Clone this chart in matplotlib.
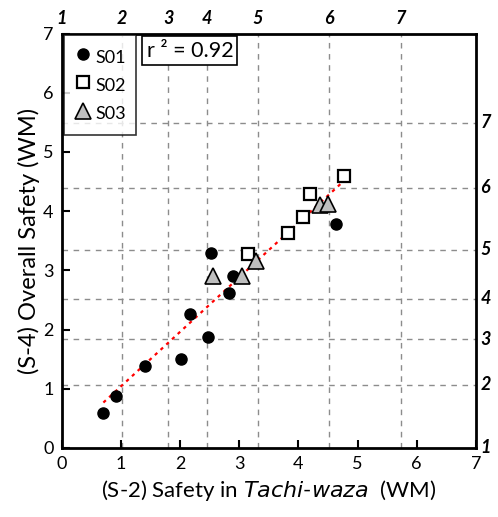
import matplotlib.pyplot as plt
import numpy as np

plt.rcParams["font.family"] = ["Lato", "DejaVu Sans"]

# WM scores, (S-2) safety in tachi-waza vs (S-4) overall safety
s01_x = [0.70, 0.91, 1.41, 2.01, 2.16, 2.47, 2.52, 2.83, 2.89, 4.64]
s01_y = [0.59, 0.87, 1.38, 1.50, 2.26, 1.87, 3.30, 2.61, 2.91, 3.79]
s02_x = [3.15, 3.83, 4.07, 4.19, 4.77]
s02_y = [3.27, 3.64, 3.90, 4.29, 4.59]
s03_x = [2.55, 3.05, 3.28, 4.36, 4.50]
s03_y = [2.90, 2.91, 3.16, 4.10, 4.12]
r2_text = "0.92"

# raw category scores (1-7) and their WM positions on each axis
raw_labels = ["1", "2", "3", "4", "5", "6", "7"]
top_wm = [0.0, 1.02, 1.80, 2.45, 3.31, 4.52, 5.74]
right_wm = [0.0, 1.07, 1.84, 2.52, 3.35, 4.40, 5.49]

fig = plt.figure(figsize=(4.98, 5.17), dpi=100)
ax = fig.add_axes([0.1245, 0.1335, 0.831, 0.8015])

for v in top_wm[1:]:
    ax.axvline(v, color="#8c8c8c", linestyle=(0, (4, 4)), linewidth=1, zorder=0)
for v in right_wm[1:]:
    ax.axhline(v, color="#8c8c8c", linestyle=(0, (4, 4)), linewidth=1, zorder=0)

all_x = np.array(s01_x + s02_x + s03_x)
all_y = np.array(s01_y + s02_y + s03_y)
slope, icpt = np.polyfit(all_x, all_y, 1)
fx = np.array([all_x.min(), all_x.max()])
ax.plot(fx, slope * fx + icpt, color="red", linestyle=(0, (1.5, 2)), linewidth=1.6, zorder=2)

ax.plot(s01_x, s01_y, "o", color="black", markersize=8, label="S01", zorder=3)
ax.plot(s02_x, s02_y, "s", markerfacecolor="white", markeredgecolor="black",
        markeredgewidth=1.6, markersize=9, label="S02", zorder=3)
ax.plot(s03_x, s03_y, "^", markerfacecolor="#bfbfbf", markeredgecolor="black",
        markeredgewidth=1.2, markersize=11, label="S03", zorder=3)

ax.set_xlim(0, 7)
ax.set_ylim(0, 7)
ax.set_xticks(range(8))
ax.set_yticks(range(8))
ax.tick_params(direction="in", length=6, width=1.5, labelsize=13, pad=6,
               colors="black")
for sp in ax.spines.values():
    sp.set_linewidth(2)

ax.set_xlabel("(S-2) Safety in $\\it{Tachi}$-$\\it{waza}$  (WM)", fontsize=16, labelpad=4)
ax.set_ylabel("(S-4) Overall Safety (WM)", fontsize=17, labelpad=2)

# raw scale labels along the top and right edges
for lab, v in zip(raw_labels, top_wm):
    ax.text(v, 7.12, lab, ha="center", va="bottom", fontsize=13,
            fontweight="bold", fontstyle="italic")
for lab, v in zip(raw_labels, right_wm):
    ax.text(7.08, v, lab, ha="left", va="center", fontsize=13,
            fontweight="bold", fontstyle="italic")

leg = ax.legend(loc="upper left", fontsize=13, frameon=True, fancybox=False,
                edgecolor="black", handletextpad=0.2, handlelength=1.0,
                handleheight=1.6, borderpad=0.55, labelspacing=0.28,
                borderaxespad=0.1)
leg.get_frame().set_linewidth(1.2)

ax.text(1.43, 6.88, "r ² = " + r2_text, fontsize=15.5, va="top", ha="left",
        zorder=6,
        bbox=dict(boxstyle="square,pad=0.2", facecolor="white",
                  edgecolor="black", linewidth=1.2))

fig.savefig("out.png", dpi=100)
